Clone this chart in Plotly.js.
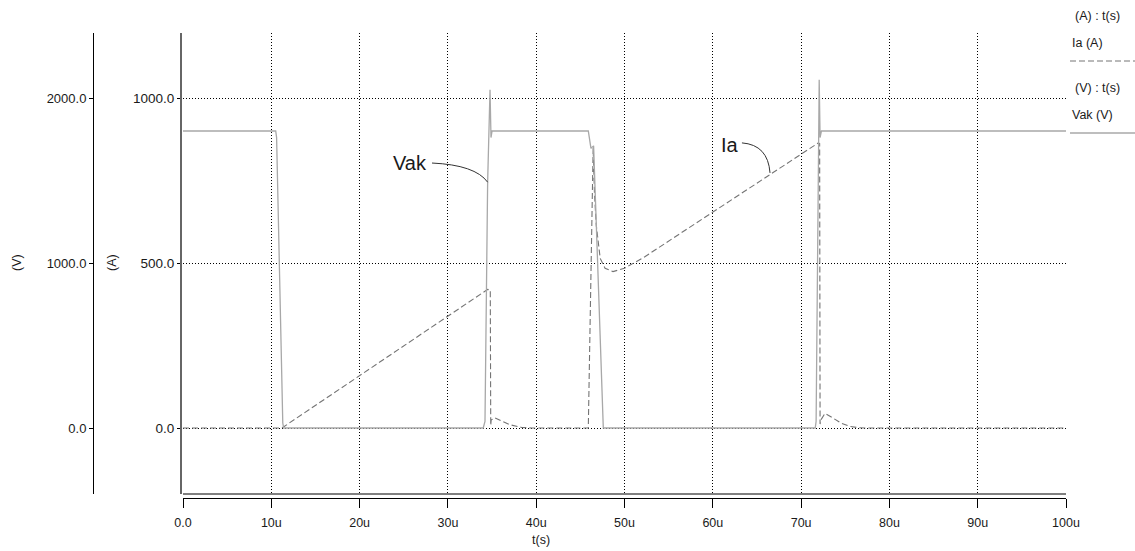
<!DOCTYPE html>
<html>
<head>
<meta charset="utf-8">
<script src="https://cdn.plot.ly/plotly-3.0.1.min.js"></script>
<style>html,body{margin:0;padding:0;background:#fff;}#chart{width:1135px;height:551px;}</style>
</head>
<body>
<div id="chart"></div>
<script>
// time in microseconds
var tVak = [0, 10.5, 10.6, 11.3, 11.4, 34.0, 34.2, 34.5, 34.77, 34.88, 35.0, 45.9, 46.2, 46.5, 47.6, 71.6, 71.7, 71.95, 72.05, 72.15, 72.3, 100];
var vak  = [1800, 1800, 1760, 30, 0, 0, 40, 1490, 2050, 1760, 1800, 1800, 1695, 1710, 0, 0, 40, 1500, 2110, 1760, 1800, 1800];

var tIa = [0, 11.2, 34.5, 34.8, 34.85, 34.9, 35.3, 36.0, 37.0, 38.3, 39.5, 45.9, 46.45, 46.6, 46.8, 47.25, 47.8, 48.7, 50.0, 52.3, 71.95, 72.1, 72.15, 72.25, 72.7, 73.5, 74.5, 75.5, 76.5, 77.5, 100];
var ia  = [0, 0, 420, 418, 8, 24, 31, 22, 10, 2, 0, 0, 849, 710, 615, 514, 484, 474, 484, 519, 864, 862, 12, 25, 44, 32, 15, 5, 1, 0, 0];

var xTickVals = [0, 10, 20, 30, 40, 50, 60, 70, 80, 90, 100];
var xTickText = ['0.0', '10u', '20u', '30u', '40u', '50u', '60u', '70u', '80u', '90u', '100u'];
var aTickVals = [0, 500, 1000];
var aTickText = ['0.0', '500.0', '1000.0'];
var vTickVals = [0, 1000, 2000];
var vTickText = ['0.0', '1000.0', '2000.0'];

var FONT = 'Liberation Sans, Arial, sans-serif';
var TXT = '#1a1a1a';

var traces = [
  {x: tVak, y: vak, type: 'scatter', mode: 'lines', name: 'Vak (V)', yaxis: 'y2',
   line: {color: '#a8a8a8', width: 1.3}},
  {x: tIa, y: ia, type: 'scatter', mode: 'lines', name: 'Ia (A)', yaxis: 'y',
   line: {color: '#747474', width: 1.1, dash: '6px,3px'}}
];

var W = 1046, H = 465;
function px(xp){ return (xp - 20) / W; }
function py(yp){ return (498 - yp) / H; }

var GRIDDASH = '1px,2px';

var layout = {
  width: 1135, height: 551,
  margin: {l: 20, r: 69, t: 33, b: 53, pad: 0},
  paper_bgcolor: '#ffffff', plot_bgcolor: '#ffffff',
  showlegend: false,
  font: {family: FONT, size: 12, color: TXT},
  xaxis: {
    domain: [px(183), 1], range: [0, 100], anchor: 'free', position: 0,
    tickvals: xTickVals, ticktext: xTickText,
    showline: true, linecolor: '#000', linewidth: 1,
    ticks: 'outside', ticklen: 9, tickcolor: '#000', tickwidth: 1,
    ticklabelstandoff: 4,
    showgrid: true, gridcolor: '#000', griddash: GRIDDASH, gridwidth: 1,
    zeroline: false, tickfont: {family: FONT, size: 12.5, color: TXT}
  },
  yaxis: {
    domain: [4 / H, 1], range: [-200, 1197], anchor: 'free', position: px(181), side: 'left',
    tickvals: aTickVals, ticktext: aTickText,
    showline: true, linecolor: '#666', linewidth: 2,
    ticks: 'outside', ticklen: 3, tickcolor: '#000',
    showgrid: true, gridcolor: '#000', griddash: GRIDDASH, gridwidth: 1,
    zeroline: false, tickfont: {family: FONT, size: 13.5, color: TXT}
  },
  yaxis2: {
    overlaying: 'y', range: [-400, 2394], anchor: 'free', position: px(93), side: 'left',
    tickvals: vTickVals, ticktext: vTickText,
    showline: true, linecolor: '#000', linewidth: 1,
    ticks: 'outside', ticklen: 4, tickcolor: '#000',
    showgrid: false, zeroline: false, tickfont: {family: FONT, size: 13, color: TXT}
  },
  shapes: [
    // bottom frame line of the plot area
    {type: 'line', xref: 'x domain', yref: 'y domain', x0: 0, x1: 1, y0: 0, y1: 0,
     line: {color: '#000', width: 1}},
    // leader curve for Vak
    {type: 'path', xref: 'x', yref: 'y', path: 'M 28.2,803 Q 33.1,797 34.5,745',
     line: {color: '#333', width: 1}},
    // leader curve for Ia
    {type: 'path', xref: 'x', yref: 'y', path: 'M 63.3,864 Q 66.25,858 66.48,773',
     line: {color: '#333', width: 1}},
    // legend samples
    {type: 'line', xref: 'paper', yref: 'paper', x0: px(1070), x1: px(1135), y0: py(61), y1: py(61),
     line: {color: '#747474', width: 1, dash: '6px,3px'}},
    {type: 'line', xref: 'paper', yref: 'paper', x0: px(1070), x1: px(1135), y0: py(133), y1: py(133),
     line: {color: '#a8a8a8', width: 1.3}}
  ],
  annotations: [
    {text: 'Vak', xref: 'x', yref: 'y', x: 25.7, y: 803, yanchor: 'middle', showarrow: false,
     font: {family: FONT, size: 20, color: TXT}},
    {text: 'Ia', xref: 'x', yref: 'y', x: 61.95, y: 858, yanchor: 'middle', showarrow: false,
     font: {family: FONT, size: 20, color: TXT}},
    {text: '(A) : t(s)', xref: 'paper', yref: 'paper', x: px(1122), y: py(16), xanchor: 'right', yanchor: 'middle', showarrow: false, font: {size: 12.5}},
    {text: 'Ia (A)', xref: 'paper', yref: 'paper', x: px(1070), y: py(43), xanchor: 'left', yanchor: 'middle', showarrow: false, font: {size: 12.5}},
    {text: '(V) : t(s)', xref: 'paper', yref: 'paper', x: px(1122), y: py(88), xanchor: 'right', yanchor: 'middle', showarrow: false, font: {size: 12.5}},
    {text: 'Vak (V)', xref: 'paper', yref: 'paper', x: px(1070), y: py(115), xanchor: 'left', yanchor: 'middle', showarrow: false, font: {size: 12.5}},
    {text: '(V)', xref: 'paper', yref: 'paper', x: px(17), y: py(263), xanchor: 'center', yanchor: 'middle', textangle: -90, showarrow: false, font: {size: 12.5}},
    {text: '(A)', xref: 'paper', yref: 'paper', x: px(112), y: py(263), xanchor: 'center', yanchor: 'middle', textangle: -90, showarrow: false, font: {size: 12.5}},
    {text: 't(s)', xref: 'paper', yref: 'paper', x: px(541), y: py(540), xanchor: 'center', yanchor: 'middle', showarrow: false, font: {size: 12.5}}
  ]
};

Plotly.newPlot('chart', traces, layout, {displayModeBar: false, staticPlot: true});
</script>
</body>
</html>
